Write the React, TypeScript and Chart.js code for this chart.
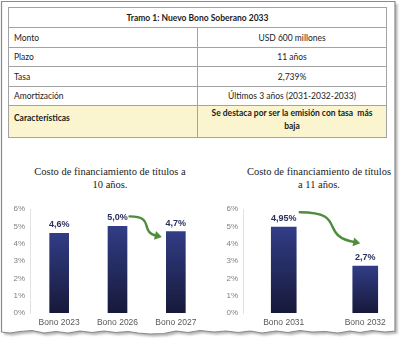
import React, { useEffect, useRef } from "react";
import { Chart, registerables } from "chart.js";

Chart.register(...registerables);

// ---- Data ----
const tableTitle = "Tramo 1: Nuevo Bono Soberano 2033";
const tableLabels = ["Monto", "Plazo", "Tasa", "Amortización", "Características"];
const tableValues = [
  "USD 600 millones",
  "11 años",
  "2,739%",
  "Últimos 3 años (2031-2032-2033)",
  "Se destaca por ser la emisión con tasa  más baja",
];

const chart1Title = ["Costo de financiamiento de títulos a", "10 años."];
const chart1Categories = ["Bono 2023", "Bono 2026", "Bono 2027"];
const chart1Values = [4.6, 5.0, 4.7];

const chart2Title = ["Costo de financiamiento de títulos", "a 11 años."];
const chart2Categories = ["Bono 2031", "Bono 2032"];
const chart2Values = [4.95, 2.7];

const yMin = 0;
const yMax = 6;
const yStep = 1;

function fmt(v: number): string {
  const tenths = v * 10;
  const s = Math.abs(tenths - Math.round(tenths)) < 1e-9 ? v.toFixed(1) : String(v);
  return s.replace(".", ",") + "%";
}

const valueLabelPlugin = {
  id: "valueLabels",
  afterDatasetsDraw(chart: any) {
    const ctx = chart.ctx;
    const meta = chart.getDatasetMeta(0);
    const data = chart.data.datasets[0].data as number[];
    ctx.save();
    ctx.font = "bold 9px 'Liberation Sans', Arial, sans-serif";
    ctx.fillStyle = "#2a2f5c";
    ctx.textAlign = "center";
    ctx.textBaseline = "bottom";
    meta.data.forEach((el: any, i: number) => {
      ctx.fillText(fmt(data[i]), el.x, el.y - 4);
    });
    ctx.restore();
  },
};

const arrowPlugin = {
  id: "curvedArrow",
  afterDatasetsDraw(chart: any, _args: any, opts: any) {
    if (!opts || opts.from == null) return;
    const meta = chart.getDatasetMeta(0);
    const a = meta.data[opts.from];
    const b = meta.data[opts.to];
    if (!a || !b) return;
    const sx = a.x + opts.start[0];
    const sy = a.y + opts.start[1];
    const ex = b.x + opts.end[0];
    const ey = b.y + opts.end[1];
    const dx = ex - sx;
    const dy = ey - sy;
    const p1x = sx + 0.8 * dx;
    const p1y = sy;
    const p2x = sx + 0.3 * dx;
    const p2y = ey - 0.25 * dy;
    const ang = Math.atan2(ey - p2y, ex - p2x);
    const headLen = 7;
    const headW = 4.5;
    const lx = ex - Math.cos(ang) * headLen * 0.8;
    const ly = ey - Math.sin(ang) * headLen * 0.8;
    const ctx = chart.ctx;
    ctx.save();
    ctx.strokeStyle = "#4f8c3d";
    ctx.fillStyle = "#4f8c3d";
    ctx.lineWidth = 2.4;
    ctx.lineCap = "round";
    ctx.beginPath();
    ctx.moveTo(sx, sy);
    ctx.bezierCurveTo(p1x, p1y, p2x, p2y, lx, ly);
    ctx.stroke();
    ctx.beginPath();
    ctx.moveTo(ex, ey);
    const bx = ex - Math.cos(ang) * headLen;
    const by = ey - Math.sin(ang) * headLen;
    ctx.lineTo(bx - Math.sin(ang) * headW, by + Math.cos(ang) * headW);
    ctx.lineTo(bx + Math.sin(ang) * headW, by - Math.cos(ang) * headW);
    ctx.closePath();
    ctx.fill();
    ctx.restore();
  },
};

type BarProps = {
  categories: string[];
  values: number[];
  barThickness: number;
  padRight: number;
  arrow: any;
  style: React.CSSProperties;
};

function BarChart({ categories, values, barThickness, padRight, arrow, style }: BarProps) {
  const ref = useRef<HTMLCanvasElement | null>(null);
  useEffect(() => {
    if (!ref.current) return;
    const chart = new Chart(ref.current, {
      type: "bar",
      data: {
        labels: categories,
        datasets: [
          {
            data: values,
            barThickness,
            backgroundColor: (c: any) => {
              const ch = c.chart;
              const area = ch.chartArea;
              if (!area || c.dataIndex == null) return "#252b66";
              const top = ch.scales.y.getPixelForValue(values[c.dataIndex]);
              const g = ch.ctx.createLinearGradient(0, top, 0, area.bottom);
              g.addColorStop(0, "#313d86");
              g.addColorStop(1, "#171939");
              return g;
            },
            borderWidth: 0,
          },
        ],
      },
      options: {
        animation: false,
        responsive: true,
        maintainAspectRatio: false,
        layout: { padding: { top: 14, right: padRight, left: 0, bottom: 0 } },
        plugins: {
          legend: { display: false },
          tooltip: { enabled: false },
          title: { display: false },
          curvedArrow: arrow,
        } as any,
        scales: {
          x: {
            grid: { display: false, drawTicks: false },
            border: { display: false },
            ticks: {
              font: { family: "'Liberation Sans', Arial, sans-serif", size: 8.5 },
              color: "#595959",
              padding: 5,
              maxRotation: 0,
              autoSkip: false,
            },
            afterFit: (s: any) => {
              s.height = 22;
            },
          },
          y: {
            min: yMin,
            max: yMax,
            grid: { display: false, drawTicks: false },
            border: { display: true, color: "#e2e2e2", width: 1 },
            ticks: {
              stepSize: yStep,
              callback: (v: any) => v + "%",
              font: { family: "'Liberation Sans', Arial, sans-serif", size: 8 },
              color: "#808080",
              padding: 5,
            },
            afterFit: (s: any) => {
              s.width = 30;
            },
          },
        },
      },
      plugins: [valueLabelPlugin, arrowPlugin],
    });
    return () => chart.destroy();
  }, []);
  return (
    <div style={{ position: "absolute", ...style }}>
      <canvas ref={ref} />
    </div>
  );
}

const cellBorder = "1.5px solid #a3a3a3";
const rowHeights = [20, 20, 19, 20, 19, 32];

export default function App() {
  useEffect(() => {
    document.body.style.margin = "0";
    document.body.style.overflow = "hidden";
  }, []);

  const tdBase: React.CSSProperties = {
    border: cellBorder,
    padding: "0 5px",
    fontFamily: "Lato, 'Open Sans', sans-serif",
    fontSize: "8.5px",
    color: "#1c1c1c",
    boxSizing: "border-box",
  };

  const tornPath =
    "M1.5,1.5 H395 V331 L385,332 L372,330.5 L360,332.5 L350,331 L338,333 L325,331.5 L312,332 L300,330.5 L288,332.5 L276,331 L262,333 L250,331 L238,332.5 L226,331 L214,332 L200,330.5 L188,332.5 L176,331 L164,333.5 L150,334 L138,333 L128,331.5 L116,332.5 L104,331 L92,332.5 L80,331 L68,333 L56,331.5 L44,333 L32,330.5 L20,331.5 L10,333 L1.5,332 Z";

  const titleStyle: React.CSSProperties = {
    position: "absolute",
    fontFamily: "'Liberation Serif', 'Times New Roman', serif",
    fontSize: "10.5px",
    lineHeight: "13px",
    color: "#222",
    textAlign: "center",
    whiteSpace: "nowrap",
  };

  return (
    <div
      style={{
        position: "relative",
        width: 400,
        height: 338,
        overflow: "hidden",
        background: "#fff",
      }}
    >
      <svg width={400} height={338} style={{ position: "absolute", left: 0, top: 0 }}>
        <defs>
          <filter id="blur" x="-5%" y="-5%" width="110%" height="110%">
            <feGaussianBlur stdDeviation="1.2" />
          </filter>
        </defs>
        <path d={tornPath} transform="translate(2.5,2.5)" fill="#b5b5b5" filter="url(#blur)" />
        <path d={tornPath} fill="#fff" stroke="#8a8a8a" strokeWidth={1.2} />
      </svg>

      <table
        style={{
          position: "absolute",
          left: 8,
          top: 7,
          width: 378,
          borderCollapse: "collapse",
          tableLayout: "fixed",
        }}
      >
        <colgroup>
          <col style={{ width: 189 }} />
          <col style={{ width: 189 }} />
        </colgroup>
        <tbody>
          <tr style={{ height: rowHeights[0] }}>
            <td colSpan={2} style={{ ...tdBase, fontWeight: "bold", textAlign: "center" }}>
              {tableTitle}
            </td>
          </tr>
          {tableLabels.map((lab, i) => {
            const last = i === tableLabels.length - 1;
            const bg = last ? "#faf5cf" : "#fff";
            return (
              <tr key={lab} style={{ height: rowHeights[i + 1], background: bg }}>
                <td
                  style={{
                    ...tdBase,
                    fontWeight: last ? "bold" : "normal",
                    verticalAlign: last ? "top" : "middle",
                    paddingTop: last ? 7 : 0,
                  }}
                >
                  {lab}
                </td>
                <td
                  style={{
                    ...tdBase,
                    textAlign: "center",
                    fontWeight: last ? "bold" : "normal",
                    lineHeight: last ? "13px" : undefined,
                    padding: last ? "1px 10px 0 10px" : "0 5px",
                    verticalAlign: last ? "top" : "middle",
                    whiteSpace: "pre-wrap",
                  }}
                >
                  {tableValues[i]}
                </td>
              </tr>
            );
          })}
        </tbody>
      </table>

      <div style={{ ...titleStyle, left: 10, top: 165, width: 200 }}>
        {chart1Title[0]}
        <br />
        {chart1Title[1]}
      </div>
      <div style={{ ...titleStyle, left: 229, top: 165, width: 180 }}>
        {chart2Title[0]}
        <br />
        {chart2Title[1]}
      </div>

      <BarChart
        categories={chart1Categories}
        values={chart1Values}
        barThickness={19}
        padRight={10}
        arrow={{ from: 1, to: 2, start: [12, -10], end: [-14, 5.5] }}
        style={{ left: 0, top: 195, width: 215, height: 140 }}
      />
      <BarChart
        categories={chart2Categories}
        values={chart2Values}
        barThickness={25}
        padRight={0}
        arrow={{ from: 0, to: 1, start: [16, -15], end: [-5, -23] }}
        style={{ left: 213, top: 195, width: 193, height: 140 }}
      />
    </div>
  );
}
